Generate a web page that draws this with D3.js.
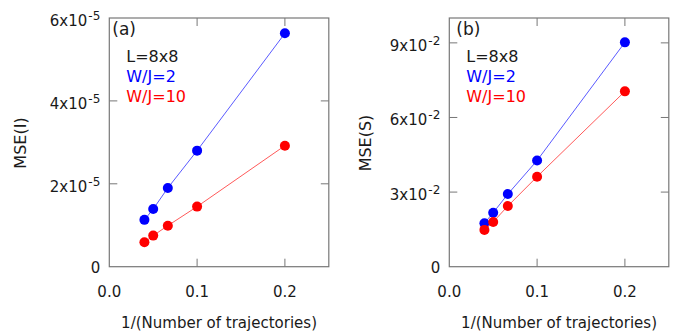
<!DOCTYPE html>
<html>
<head>
<meta charset="utf-8">
<script src="https://cdn.jsdelivr.net/npm/d3@7"></script>
<style>
  body { margin: 0; background: #fff; }
  svg text { font-family: "DejaVu Sans", Verdana, sans-serif; }
</style>
</head>
<body>
<svg id="chart" width="700" height="335"></svg>
<script>
// 1/(number of trajectories): 25, 20, 15, 10, 5
let invTraj = [1 / 25, 1 / 20, 1 / 15, 1 / 10, 1 / 5];

let mseI_w2 = [1.13e-5, 1.39e-5, 1.90e-5, 2.80e-5, 5.63e-5];
let mseI_w10 = [0.59e-5, 0.75e-5, 0.99e-5, 1.45e-5, 2.92e-5];

let mseS_w2 = [1.75e-2, 2.17e-2, 2.92e-2, 4.27e-2, 9.02e-2];
let mseS_w10 = [1.48e-2, 1.80e-2, 2.44e-2, 3.62e-2, 7.05e-2];

let xTicks = [0, 0.1, 0.2];
let yTicksI = [0, 2e-5, 4e-5, 6e-5];
let yTicksS = [0, 3e-2, 6e-2, 9e-2];

let svg = d3.select('#chart');
let ink = '#1a1a1a';

function panel(opt) {
	let g = svg.append('g');
	let w = 219.5, top = 18, bot = 266.7;
	let x = d3.scaleLinear().domain([0, 0.25]).range([opt.left, opt.left + w]);
	let y = d3.scaleLinear().domain(opt.yDomain).range([bot, top]);

	// ticks, inward on all four sides
	let tl = 8;
	g.selectAll('.xt').data(xTicks.filter(d => d > 0)).join('path')
		.attr('d', d => `M${x(d)},${bot}V${bot - tl}M${x(d)},${top}V${top + tl}`)
		.attr('stroke', '#777').attr('stroke-width', 1);
	g.selectAll('.yt').data(opt.yTicks.filter(d => d > 0 && d < opt.yDomain[1])).join('path')
		.attr('d', d => `M${opt.left},${y(d)}H${opt.left + tl}M${opt.left + w},${y(d)}H${opt.left + w - tl}`)
		.attr('stroke', '#777').attr('stroke-width', 1);

	g.append('rect')
		.attr('x', opt.left).attr('y', top)
		.attr('width', w).attr('height', bot - top)
		.attr('fill', 'none').attr('stroke', '#777').attr('stroke-width', 1.2);

	g.selectAll('.xl').data(xTicks).join('text')
		.attr('x', d => x(d)).attr('y', 297)
		.attr('text-anchor', 'middle')
		.attr('font-size', 15).attr('fill', ink)
		.text(d => d.toFixed(1));

	opt.yTicks.forEach(function(t) {
		let txt = g.append('text')
			.attr('x', opt.left - 9).attr('text-anchor', 'end')
			.attr('font-size', 15).attr('fill', ink);
		if (t === 0) { txt.attr('y', y(t) + 6).text('0'); return; }
		txt.attr('y', y(t) + 8);
		txt.append('tspan').text(Math.round(t / Math.pow(10, opt.exp)) + 'x10');
		txt.append('tspan').attr('dy', -6).attr('dx', 1).attr('font-size', 12).text(opt.exp);
	});

	g.append('text')
		.attr('x', opt.left + w / 2).attr('y', 328)
		.attr('text-anchor', 'middle')
		.attr('font-size', 15).attr('fill', ink)
		.text('1/(Number of trajectories)');
	g.append('text')
		.attr('transform', `translate(${opt.titleX},143) rotate(-90)`)
		.attr('text-anchor', 'middle')
		.attr('font-size', 16).attr('fill', ink)
		.text(opt.yTitle);

	let line = d3.line().x(d => x(d[0])).y(d => y(d[1]));
	[[opt.s2, '#0000ff', '#5a5aff'], [opt.s10, '#ff0000', '#ff5a5a']].forEach(function(s) {
		let pts = invTraj.map((v, i) => [v, s[0][i]]);
		g.append('path').datum(pts)
			.attr('d', line).attr('fill', 'none')
			.attr('stroke', s[2]).attr('stroke-width', 1);
		g.selectAll(null).data(pts).join('circle')
			.attr('cx', d => x(d[0])).attr('cy', d => y(d[1]))
			.attr('r', 5).attr('fill', s[1]);
	});

	g.append('text').attr('x', opt.left + opt.tagDx).attr('y', 35)
		.attr('font-size', 17).attr('fill', ink).text(opt.tag);
	[['L=8x8', ink], ['W/J=2', '#0000ff'], ['W/J=10', '#ff0000']].forEach(function(l, i) {
		g.append('text').attr('x', opt.left + 17).attr('y', 61.5 + i * 20)
			.attr('font-size', 16).attr('fill', l[1]).text(l[0]);
	});
}

panel({left: 109.3, yDomain: [0, 6e-5], yTicks: yTicksI, exp: -5,
	s2: mseI_w2, s10: mseI_w10, yTitle: 'MSE(I)', titleX: 26, tag: '(a)', tagDx: 3});
panel({left: 449.3, yDomain: [0, 0.1], yTicks: yTicksS, exp: -2,
	s2: mseS_w2, s10: mseS_w10, yTitle: 'MSE(S)', titleX: 371, tag: '(b)', tagDx: 7});
</script>
</body>
</html>
